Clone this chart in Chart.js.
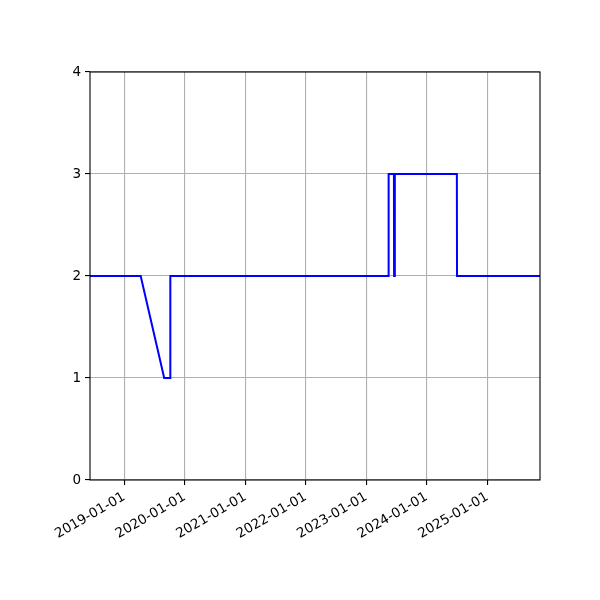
<!DOCTYPE html>
<html>
<head>
<meta charset="utf-8">
<script src="https://cdn.jsdelivr.net/npm/chart.js@4.4.1/dist/chart.umd.min.js"></script>
<style>
  html, body { margin: 0; padding: 0; background: #fff; }
  #wrap { width: 600px; height: 600px; }
</style>
</head>
<body>
<div id="wrap"><canvas id="myChart" width="600" height="600"></canvas></div>
<script>
// data
const dates = [
  "2018-06-08", "2019-04-10", "2019-08-30", "2019-10-05", "2019-10-06",
  "2023-05-15", "2023-05-16", "2023-06-17", "2023-06-18", "2023-06-22",
  "2023-06-23", "2024-07-01", "2024-07-02", "2025-11-15",
];
const values = [2, 2, 1, 1, 2, 2, 3, 3, 2, 2, 3, 3, 2, 2];
const tickLabels = [
  "2019-01-01", "2020-01-01", "2021-01-01", "2022-01-01",
  "2023-01-01", "2024-01-01", "2025-01-01",
];
const yTicks = [0, 1, 2, 3, 4];
const xStart = "2018-06-08";
const xEnd = "2025-11-15";

const toMs = (s) => Date.parse(s + "T00:00:00Z");
const fmt = (ms) => new Date(ms).toISOString().slice(0, 10);

// matplotlib style box around the plot
const frame = {
  id: "frame",
  afterDraw(chart) {
    const { ctx, chartArea: a } = chart;
    ctx.save();
    ctx.strokeStyle = "#000";
    ctx.lineWidth = 1.1;
    ctx.strokeRect(a.left, a.top, a.right - a.left, a.bottom - a.top);
    ctx.restore();
  },
};

const font = { family: "DejaVu Sans", size: 13.5 };

new Chart(document.getElementById("myChart").getContext("2d"), {
  type: "line",
  data: {
    datasets: [
      {
        data: dates.map((d, i) => ({ x: toMs(d), y: values[i] })),
        borderColor: "#0000ff",
        borderWidth: 2,
        pointRadius: 0,
        fill: false,
        tension: 0,
      },
    ],
  },
  options: {
    responsive: false,
    animation: false,
    layout: { padding: { top: 72, right: 60, left: 0, bottom: 0 } },
    plugins: { legend: { display: false }, tooltip: { enabled: false } },
    scales: {
      x: {
        type: "linear",
        min: toMs(xStart),
        max: toMs(xEnd),
        afterBuildTicks: (s) => {
          s.ticks = tickLabels.map((t) => ({ value: toMs(t) }));
        },
        afterFit: (s) => {
          s.height = 120;
        },
        border: { display: false },
        grid: { color: "#b0b0b0", lineWidth: 1.1, tickColor: "#000", tickLength: 5 },
        ticks: {
          autoSkip: false,
          minRotation: 30,
          maxRotation: 30,
          color: "#000",
          font,
          padding: 4,
          callback: (v) => fmt(v),
        },
      },
      y: {
        min: 0,
        max: 4,
        afterBuildTicks: (s) => {
          s.ticks = yTicks.map((v) => ({ value: v }));
        },
        afterFit: (s) => {
          s.width = 90;
        },
        border: { display: false },
        grid: { color: "#b0b0b0", lineWidth: 1.1, tickColor: "#000", tickLength: 5 },
        ticks: { color: "#000", font, padding: 4 },
      },
    },
  },
  plugins: [frame],
});
</script>
</body>
</html>
